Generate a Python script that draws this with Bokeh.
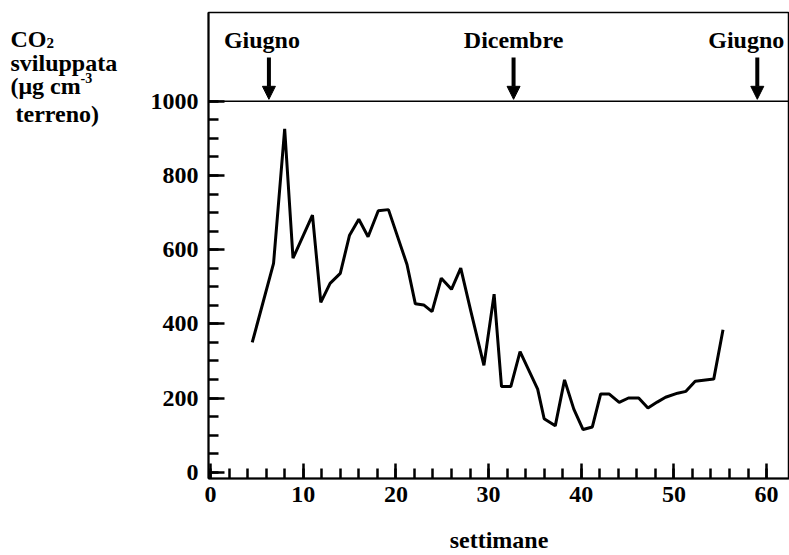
from bokeh.plotting import figure
from bokeh.layouts import row
from bokeh.models import Range1d, FixedTicker, Span, Label, Arrow, NormalHead
from bokeh.embed import file_html
from bokeh.resources import INLINE

# ---- data ----
weeks = [4.5, 6.8, 8.0, 8.9, 11.0, 11.9, 12.9, 14.0, 15.0, 16.0,
         17.0, 18.1, 19.2, 21.2, 22.1, 23.0, 23.9, 24.9, 26.0, 27.0,
         28.1, 29.5, 30.6, 31.4, 32.4, 33.4, 34.4, 35.3, 36.0, 37.2,
         38.2, 39.2, 40.2, 41.2, 42.1, 43.0, 44.1, 45.1, 46.2, 47.2,
         48.2, 49.1, 50.4, 51.3, 52.3, 54.3, 55.3]
co2 = [350, 563, 926, 577, 693, 458, 509, 536, 639, 682,
       635, 705, 708, 560, 454, 451, 433, 523, 493, 550,
       433, 288, 480, 231, 231, 325, 272, 224, 144, 125,
       249, 170, 115, 122, 211, 211, 188, 200, 200, 173,
       189, 202, 213, 218, 245, 251, 384]

month_labels = ["Giugno", "Dicembre", "Giugno"]
month_weeks = [6.3, 32.7, 59.0]
month_label_dx = [-7, 0, -11]   # small horizontal shifts of the texts, in pixels

x_ticks = [0, 10, 20, 30, 40, 50, 60]
x_minor = list(range(0, 61, 2))
y_ticks = [0, 200, 400, 600, 800, 1000]
y_minor = list(range(0, 1001, 50))

FONT = "Liberation Serif"

# ---- layout ----
W, H = 789, 555
LEFT_W = 140                      # side panel holding the y title
FRAME_L = 208                     # frame left edge on the page
BT, BB = 12, 76
FW, FH = W - FRAME_L, H - BT - BB
X0, X1 = -0.22, -0.22 + FW / 9.267
Y0, Y1 = -17.0, 1239.5
PX_PER_UNIT = FH / (Y1 - Y0)


def px2y(py):
    return Y1 - (py - BT) / PX_PER_UNIT


# ---- left panel with the y title ----
left = figure(width=LEFT_W, height=H, output_backend="svg", toolbar_location=None,
              x_range=Range1d(0, LEFT_W), y_range=Range1d(H, 0),
              x_axis_location=None, y_axis_location=None,
              min_border_left=0, min_border_right=0,
              min_border_top=0, min_border_bottom=0)
left.outline_line_color = None
left.grid.visible = False
left.background_fill_color = "white"
left.border_fill_color = "white"


def txt(s, px, py, size="24px"):
    left.add_layout(Label(x=px, y=py, text=s, text_align="left",
                          text_baseline="alphabetic", text_font=FONT,
                          text_font_style="bold", text_font_size=size,
                          text_color="black"))


txt("CO", 10, 32)
txt("2", 46, 36, "15px")
txt("sviluppata", 10, 60)
txt("(\u03bcg cm", 10, 88)
txt("-3", 80, 78, "14px")
txt("terreno)", 15, 121)

# ---- main chart ----
p = figure(width=W - LEFT_W, height=H, output_backend="svg", toolbar_location=None,
           x_range=Range1d(X0, X1), y_range=Range1d(Y0, Y1),
           min_border_left=FRAME_L - LEFT_W, min_border_right=0,
           min_border_top=BT, min_border_bottom=BB)
p.background_fill_color = "white"
p.border_fill_color = "white"
p.outline_line_color = "black"
p.outline_line_width = 1.5
p.xgrid.visible = False
p.ygrid.visible = False

for ax in (p.xaxis[0], p.yaxis[0]):
    ax.axis_line_width = 2
    ax.axis_line_color = "black"
    ax.major_tick_out = 0
    ax.minor_tick_out = 0
    ax.major_tick_line_width = 2.5
    ax.minor_tick_line_width = 2.5
    ax.major_tick_line_color = "black"
    ax.minor_tick_line_color = "black"
    ax.major_label_text_font = FONT
    ax.major_label_text_font_style = "bold"
    ax.major_label_text_font_size = "24px"
    ax.major_label_text_color = "black"

p.xaxis.ticker = FixedTicker(ticks=x_ticks, minor_ticks=x_minor)
p.xaxis.major_tick_in = 15
p.xaxis.minor_tick_in = 10
p.xaxis.major_label_standoff = 8
p.xaxis.axis_label = "settimane"
p.xaxis.axis_label_text_font = FONT
p.xaxis.axis_label_text_font_style = "bold"
p.xaxis.axis_label_text_font_size = "24px"
p.xaxis.axis_label_text_color = "black"
p.xaxis.axis_label_standoff = 22

p.yaxis.ticker = FixedTicker(ticks=y_ticks, minor_ticks=y_minor)
p.yaxis.major_tick_in = 16
p.yaxis.minor_tick_in = 10
p.yaxis.major_label_standoff = 10

p.add_layout(Span(location=1000, dimension="width", line_color="black", line_width=1.5))

p.line(weeks, co2, line_color="black", line_width=3)

for name, wk, dx in zip(month_labels, month_weeks, month_label_dx):
    p.add_layout(Label(x=wk, y=px2y(40), x_offset=dx, text=name, text_align="center",
                       text_baseline="alphabetic", text_font=FONT,
                       text_font_style="bold", text_font_size="24px",
                       text_color="black"))
    p.add_layout(Arrow(x_start=wk, y_start=px2y(57), x_end=wk, y_end=px2y(99),
                       line_color="black", line_width=4,
                       end=NormalHead(size=13, fill_color="black", line_color="black")))

layout = row(left, p, spacing=0)
open("out.html", "w").write(file_html(layout, INLINE))
